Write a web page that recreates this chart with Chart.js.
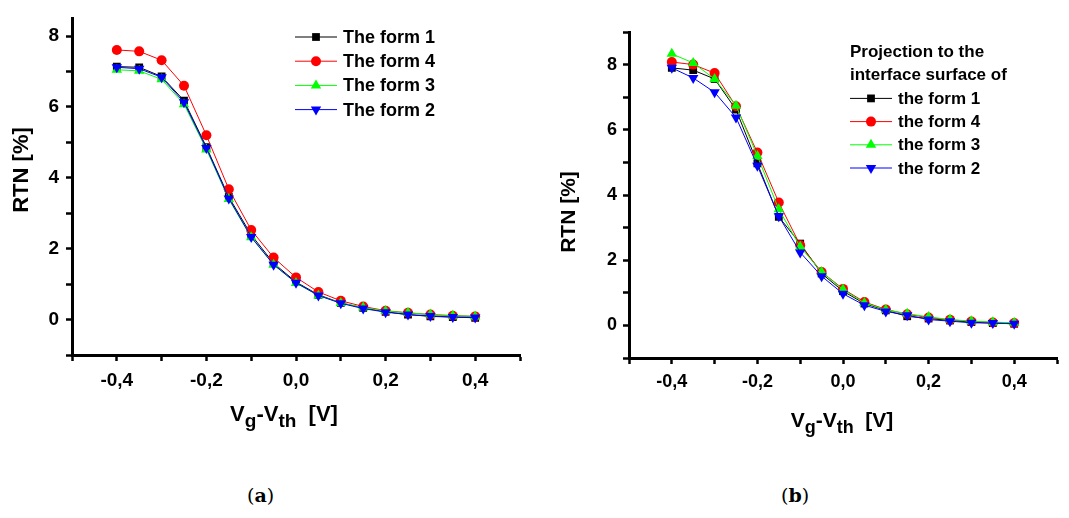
<!DOCTYPE html>
<html>
<head>
<meta charset="utf-8">
<script src="https://cdn.jsdelivr.net/npm/chart.js@4.4.1/dist/chart.umd.min.js"></script>
<style>
  html, body { margin: 0; padding: 0; background: #fff; }
  body { width: 1069px; height: 518px; position: relative; overflow: hidden; }
  canvas { position: absolute; top: 0; }
  #chartA { left: 0; }
  #chartB { left: 530px; }
  .cap { position: absolute; top: 484px; font-family: "DejaVu Serif", serif; font-size: 19px; color: #000; }
</style>
</head>
<body>
<canvas id="chartA" width="540" height="440"></canvas>
<canvas id="chartB" width="539" height="440"></canvas>
<div class="cap" style="left:247px">(<b>a</b>)</div>
<div class="cap" style="left:781px">(<b>b</b>)</div>
<script>
// x values of the measured points (Vg - Vth, V)
const xValues = [-0.4, -0.35, -0.3, -0.25, -0.2, -0.15, -0.1, -0.05, 0, 0.05, 0.1, 0.15, 0.2, 0.25, 0.3, 0.35, 0.4];

// panel (a): RTN [%]
const aForm1 = [7.14, 7.12, 6.86, 6.18, 4.87, 3.46, 2.39, 1.59, 1.06, 0.70, 0.47, 0.33, 0.22, 0.14, 0.09, 0.07, 0.05];
const aForm4 = [7.61, 7.57, 7.32, 6.60, 5.20, 3.68, 2.53, 1.75, 1.19, 0.78, 0.53, 0.37, 0.25, 0.19, 0.14, 0.11, 0.09];
const aForm3 = [7.05, 7.02, 6.78, 6.08, 4.80, 3.40, 2.32, 1.55, 1.03, 0.68, 0.47, 0.34, 0.24, 0.19, 0.14, 0.11, 0.09];
const aForm2 = [7.12, 7.08, 6.84, 6.13, 4.84, 3.42, 2.33, 1.55, 1.04, 0.68, 0.46, 0.31, 0.21, 0.14, 0.10, 0.07, 0.06];

// panel (b): projection to the interface surface
const bForm1 = [7.90, 7.83, 7.56, 6.62, 4.97, 3.33, 2.51, 1.59, 1.05, 0.67, 0.46, 0.28, 0.21, 0.15, 0.10, 0.07, 0.05];
const bForm4 = [8.08, 8.00, 7.74, 6.72, 5.30, 3.77, 2.46, 1.64, 1.12, 0.72, 0.49, 0.34, 0.24, 0.17, 0.12, 0.09, 0.07];
const bForm3 = [8.33, 8.05, 7.56, 6.74, 5.20, 3.56, 2.41, 1.64, 1.10, 0.69, 0.48, 0.36, 0.26, 0.18, 0.13, 0.10, 0.08];
const bForm2 = [7.90, 7.59, 7.15, 6.38, 4.90, 3.35, 2.24, 1.51, 0.97, 0.62, 0.43, 0.31, 0.18, 0.13, 0.08, 0.07, 0.05];

// axis ticks
const xTicks = [-0.5, -0.4, -0.3, -0.2, -0.1, 0, 0.1, 0.2, 0.3, 0.4, 0.5];
const xTickLabels = ['', '-0,4', '', '-0,2', '', '0,0', '', '0,2', '', '0,4', ''];
const yTicksA = [-1, 0, 1, 2, 3, 4, 5, 6, 7, 8];
const yTickLabelsA = ['', '0', '', '2', '', '4', '', '6', '', '8'];
const yTicksB = [-1, 0, 1, 2, 3, 4, 5, 6, 7, 8, 9];
const yTickLabelsB = ['', '0', '', '2', '', '4', '', '6', '', '8', ''];

const legendA = ['The form 1', 'The form 4', 'The form 3', 'The form 2'];
const legendB = ['the form 1', 'the form 4', 'the form 3', 'the form 2'];
const legendTitleB = ['Projection to the', 'interface surface of'];

const FONT = '"Liberation Sans", Arial, sans-serif';

const styles = [
    { color: '#000000', pointStyle: 'rect', radius: 5.5, rotation: 0, order: 4 },
    { color: '#ff0000', pointStyle: 'circle', radius: 5, rotation: 0, order: 3 },
    { color: '#00ff00', pointStyle: 'triangle', radius: 6, rotation: 0, order: 2 },
    { color: '#0000ff', pointStyle: 'triangle', radius: 6, rotation: 180, order: 1 }
];

function makeDatasets(series, names) {
    return series.map((vals, i) => ({
        label: names[i],
        data: xValues.map((x, j) => ({ x: x, y: vals[j] })),
        borderColor: styles[i].color,
        backgroundColor: styles[i].color,
        borderWidth: 1,
        pointStyle: styles[i].pointStyle,
        pointRotation: styles[i].rotation,
        pointRadius: styles[i].radius,
        pointBorderWidth: 0,
        order: styles[i].order,
        tension: 0
    }));
}

// draws the legend and the axis titles (with subscripts)
const decorPlugin = {
    id: 'decor',
    afterDraw(chart, args, opts) {
        const ctx = chart.ctx;
        ctx.save();
        ctx.fillStyle = '#000';
        ctx.textBaseline = 'middle';
        ctx.textAlign = 'left';
        ctx.font = 'bold ' + opts.legendSize + 'px ' + FONT;
        let y = opts.legendY;
        (opts.title || []).forEach(t => {
            ctx.fillText(t, opts.legendX, y);
            y += opts.legendStep;
        });
        chart.data.datasets.forEach((ds, i) => {
            const st = styles[i];
            ctx.strokeStyle = st.color;
            ctx.fillStyle = st.color;
            ctx.lineWidth = 1;
            ctx.beginPath();
            ctx.moveTo(opts.legendX, y);
            ctx.lineTo(opts.legendX + 42, y);
            ctx.stroke();
            Chart.helpers.drawPoint(ctx, { pointStyle: st.pointStyle, radius: st.radius, rotation: st.rotation, borderWidth: 0 }, opts.legendX + 21, y);
            ctx.fillStyle = '#000';
            ctx.fillText(ds.label, opts.legendX + 48, y + 1);
            y += opts.legendStep;
        });

        // y title
        ctx.save();
        ctx.translate(opts.yTitleX, opts.yTitleY);
        ctx.rotate(-Math.PI / 2);
        ctx.textAlign = 'center';
        ctx.textBaseline = 'middle';
        ctx.font = 'bold ' + opts.titleSize + 'px ' + FONT;
        ctx.fillText('RTN [%]', 0, 0);
        ctx.restore();

        // x title: V_g-V_th  [V]
        const big = 'bold ' + opts.titleSize + 'px ' + FONT;
        const small = 'bold ' + (opts.titleSize - 3) + 'px ' + FONT;
        const parts = [['V', big, 0], ['g', small, 6], ['-V', big, 0], ['th', small, 6], ['  [V]', big, 0]];
        ctx.textBaseline = 'alphabetic';
        let w = 0;
        parts.forEach(p => { ctx.font = p[1]; w += ctx.measureText(p[0]).width; });
        let x = opts.xTitleX - w / 2;
        parts.forEach(p => {
            ctx.font = p[1];
            ctx.fillText(p[0], x, opts.xTitleY + p[2]);
            x += ctx.measureText(p[0]).width;
        });
        ctx.restore();
    }
};

function makeChart(id, cfg) {
    return new Chart(document.getElementById(id), {
        type: 'line',
        data: { datasets: makeDatasets(cfg.series, cfg.names) },
        options: {
            responsive: false,
            animation: false,
            events: [],
            layout: { padding: { top: cfg.top, right: cfg.right, left: 0, bottom: 0 } },
            plugins: {
                legend: { display: false },
                tooltip: { enabled: false },
                decor: cfg.decor
            },
            scales: {
                x: {
                    type: 'linear',
                    min: -0.5, max: 0.5,
                    afterBuildTicks: s => { s.ticks = xTicks.map(v => ({ value: v })); },
                    afterFit: s => { s.height = cfg.xHeight; },
                    border: { display: true, color: '#000', width: 3 },
                    grid: { display: true, drawOnChartArea: false, drawTicks: true, tickLength: 6, tickWidth: 2.5, tickColor: '#000' },
                    ticks: {
                        autoSkip: false, maxRotation: 0, padding: cfg.xPad, color: '#000',
                        font: { family: FONT, weight: 'bold', size: cfg.tickSize },
                        callback: (v, i) => xTickLabels[i]
                    }
                },
                y: {
                    type: 'linear',
                    min: -1, max: cfg.yMax,
                    afterBuildTicks: s => { s.ticks = cfg.yTicks.map(v => ({ value: v })); },
                    afterFit: s => { s.width = cfg.yWidth; },
                    border: { display: true, color: '#000', width: 3 },
                    grid: { display: true, drawOnChartArea: false, drawTicks: true, tickLength: 6, tickWidth: 2.5, tickColor: '#000' },
                    ticks: {
                        autoSkip: false, padding: cfg.yPad, color: '#000',
                        font: { family: FONT, weight: 'bold', size: cfg.tickSize },
                        callback: (v, i) => cfg.yLabels[i]
                    }
                }
            }
        },
        plugins: [decorPlugin]
    });
}

makeChart('chartA', {
    series: [aForm1, aForm4, aForm3, aForm2], names: legendA,
    top: 15, right: 20, xHeight: 85, yWidth: 72, yMax: 8.5,
    yTicks: yTicksA, yLabels: yTickLabelsA, tickSize: 19, xPad: 8, yPad: 7,
    decor: {
        legendX: 295, legendY: 37, legendStep: 24.2, legendSize: 18,
        yTitleX: 22, yTitleY: 170, xTitleX: 284, xTitleY: 421, titleSize: 22
    }
});

makeChart('chartB', {
    series: [bForm1, bForm4, bForm3, bForm2], names: legendB,
    top: 32, right: 12, xHeight: 82, yWidth: 99, yMax: 9,
    yTicks: yTicksB, yLabels: yTickLabelsB, tickSize: 18, xPad: 7, yPad: 6,
    decor: {
        legendX: 320, legendY: 52, legendStep: 23.2, legendSize: 17,
        title: legendTitleB,
        yTitleX: 39, yTitleY: 212, xTitleX: 312, xTitleY: 427, titleSize: 21
    }
});
</script>
</body>
</html>
